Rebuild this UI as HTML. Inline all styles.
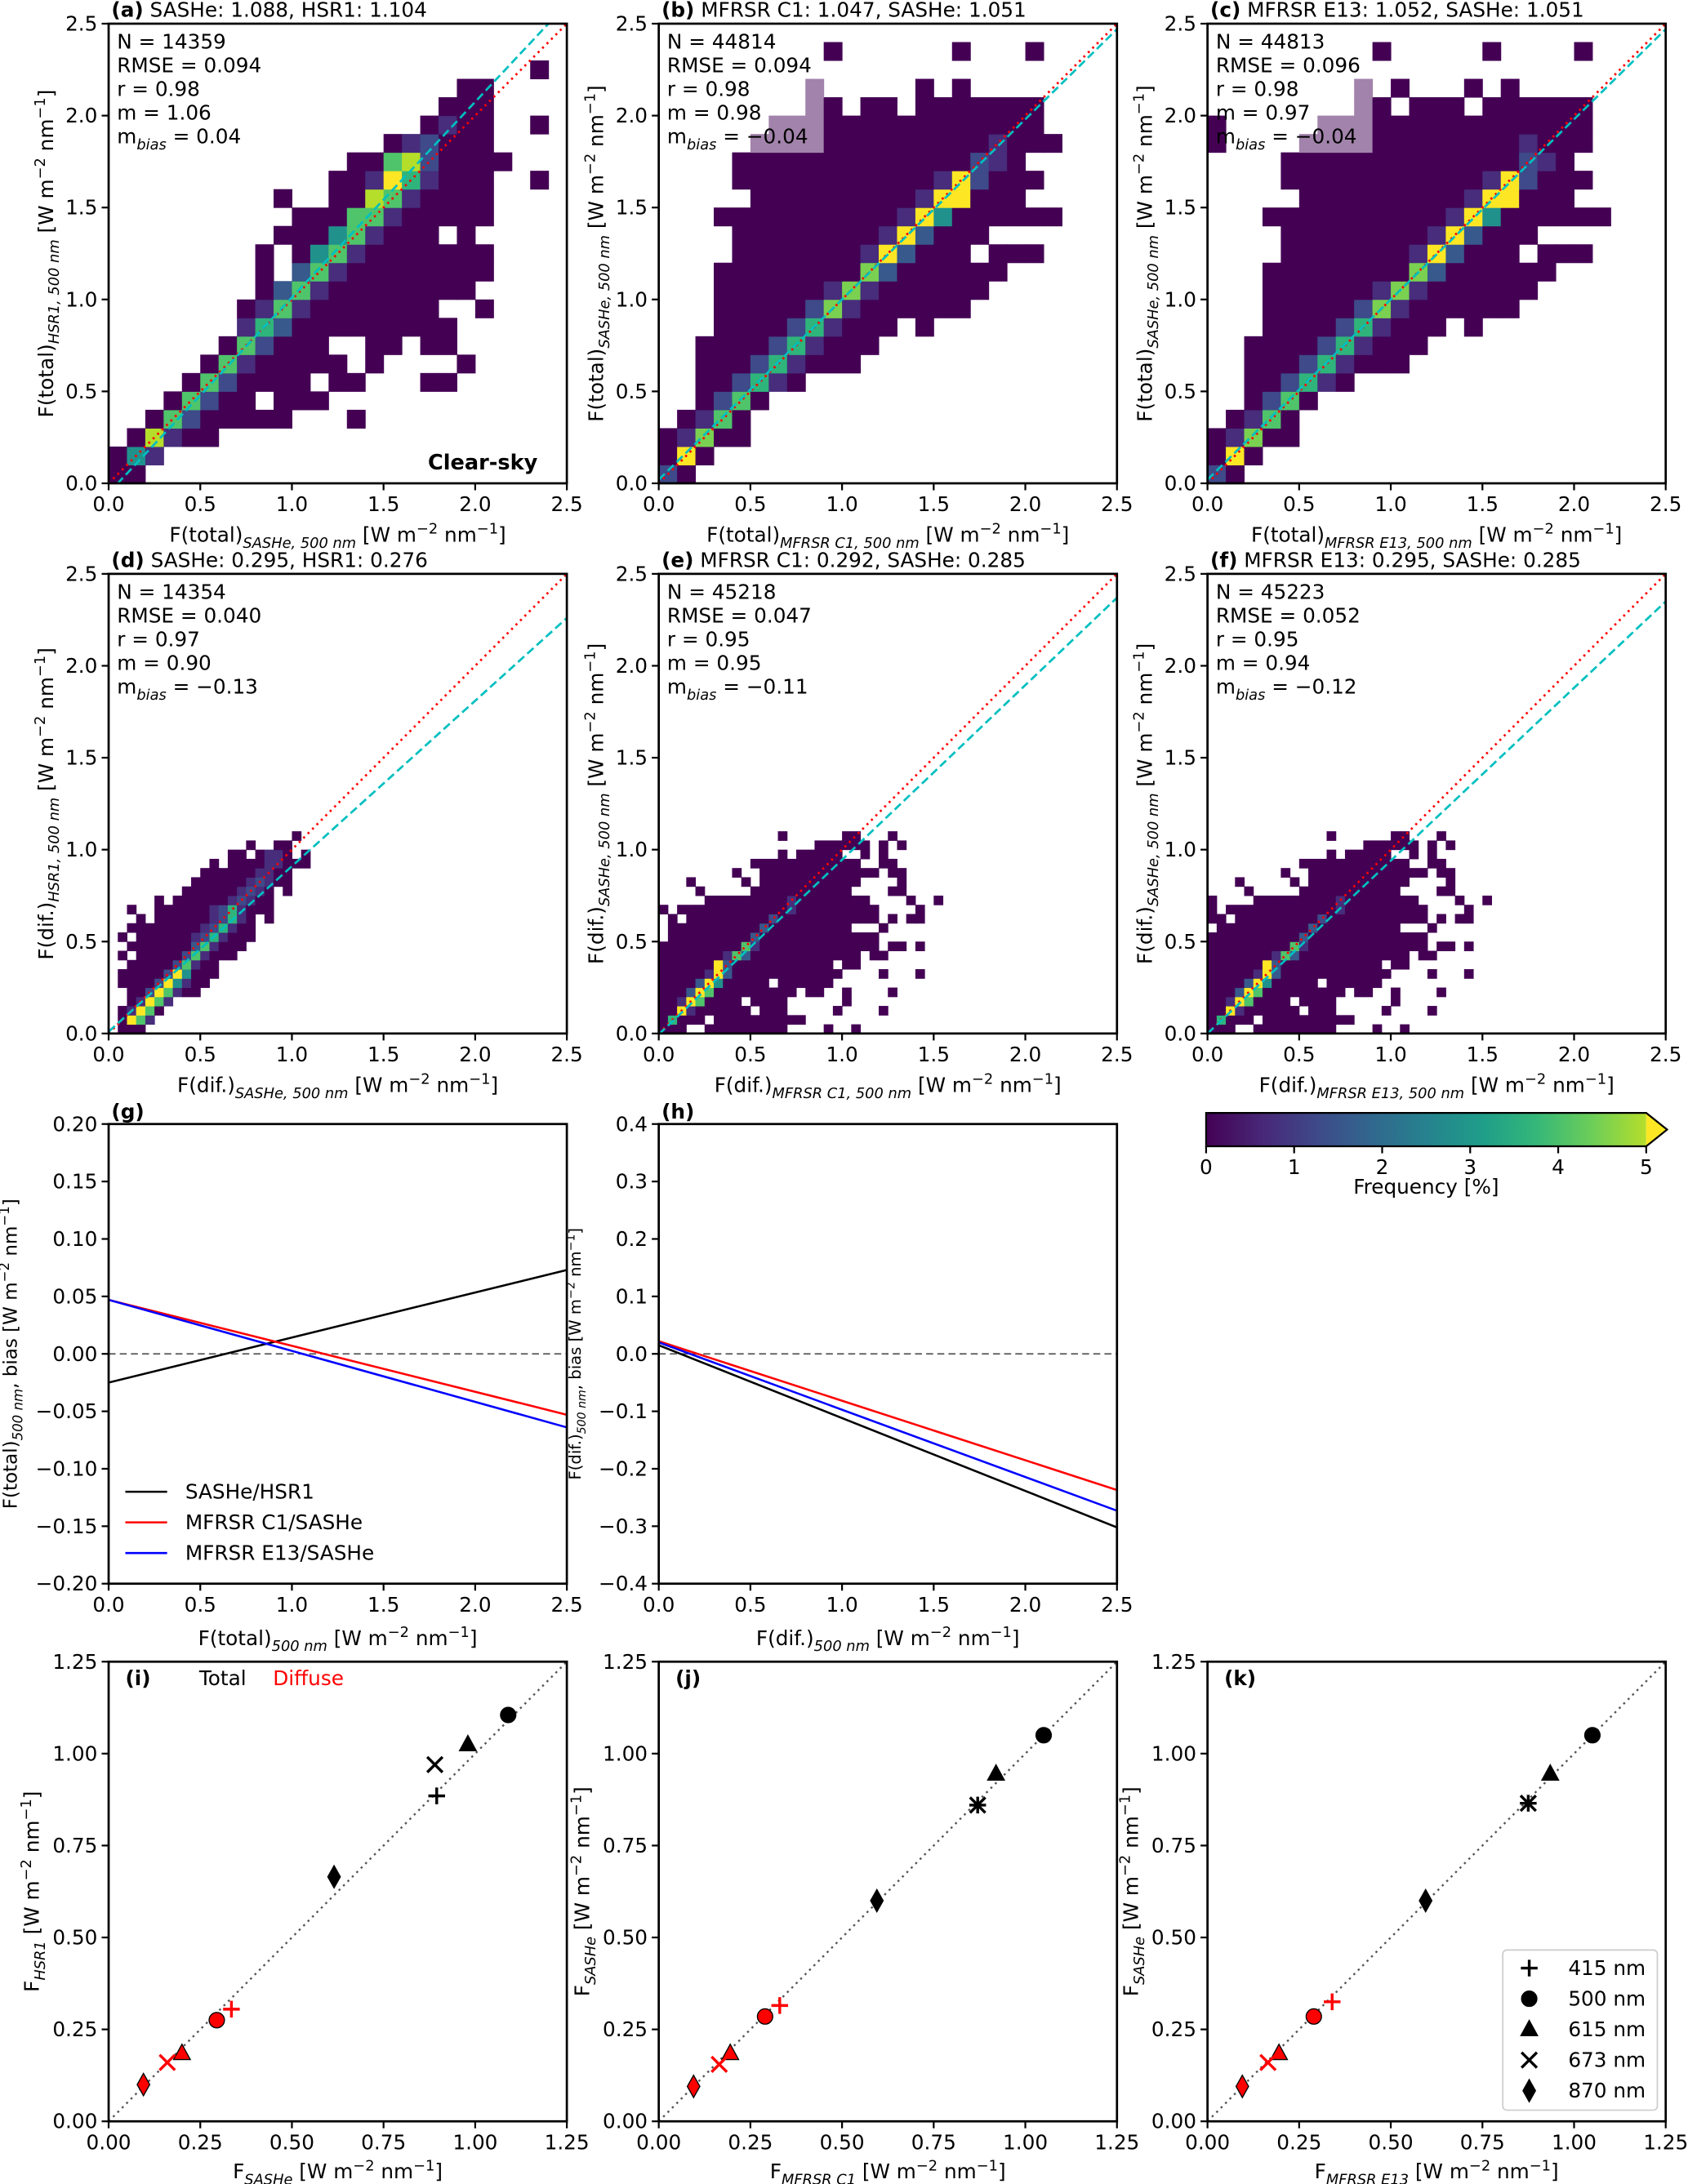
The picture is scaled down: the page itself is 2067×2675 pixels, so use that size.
<!DOCTYPE html>
<html><head><meta charset="utf-8"><style>
html,body{margin:0;padding:0;background:#fff}
svg{display:block}
text{font-family:"DejaVu Sans","Liberation Sans",sans-serif;fill:#000}
</style></head><body>
<svg id="fig" xmlns="http://www.w3.org/2000/svg" width="2067" height="2675" viewBox="0 0 1212 1568" preserveAspectRatio="none">
<defs>
<linearGradient id="vir" x1="0" x2="1" y1="0" y2="0">
<stop offset="0" stop-color="#440154"/><stop offset="0.13" stop-color="#482878"/><stop offset="0.25" stop-color="#3e4989"/><stop offset="0.38" stop-color="#31688e"/><stop offset="0.5" stop-color="#26828e"/><stop offset="0.63" stop-color="#1f9e89"/><stop offset="0.75" stop-color="#35b779"/><stop offset="0.88" stop-color="#6ece58"/><stop offset="1" stop-color="#b5de2b"/>
</linearGradient>
</defs>
</svg>
<script>
// ---------- DATA ----------
const heatA=["00","041",".08100","..06200000...0",
"...06200.000","....0620000.00...00",".....06100000.0....0","......062000..00.00",
".......153000000000",".......01610000000..0","........036100000000","........0.36100000000",
"........0.04610000000",".........000461000.0","..........00066100000",".........0..008610000",
"............001951000..0",".............006820000","...............012000",".................0100..0",
"..................000","...................00",".......................0"];
const heatB=["20","090","01700",".0160","..0260","..002510","..000251000","..0000251000",
"...0000251000.0","...00000271000000","...000000171000000","...0000000073000000",
"....0000000193000.000","....00000000193000","...0000000000194000000",".....000000000199000",
"....00000000000192000","....0000000000000210",".....LLLL0000000001000","......LLL000000000000",
"........L0.00.0000000","........L.....0.0","",".........0......0...0"];
const heatC=["20","090","01700",".0160","..0260","..002510","..000251000","..0000251000",
"...0000251000.0","...00000271000000","...000000171000000","...0000000073000000",
"....0000000193000.000","....00000000193000","...0000000000194000000",".....000000000199000",
"....00000000000192000","....0000000000000210","0....LLLL000000001000","0.....LLL000000000000",
"........L0.000.000000","........L.0...0.0","",".........0.....0....0"];
const heatD=[".000",".0961",".01960","..01961","..00296100",".0000294100",".00000294000","..0000026100",
".0.00000261000","..0000000361000",".0.0000001251000","..00000000125100","...0.00000012510.0",
"..0..0000001251000",".....0.00000012100","........0000001210.0",".........00000012100",
"..........0000001100","...........0.000011000",".............00.0110.0","...............0..00","....................0"];
const heatE=["000..000000000....0..0","05000.0000000000","0091000000.000.....0....0","001960000.0000......0",
"000396000000000.00..0....0","000039400000.000000","00000193000000000000....0...0","0000009300000000000.00",
"0000000163000000000000.00","000000000610000000000000.00.0",".00000000030000000000000",".00000000003000000000...0",
".0.000000000200000000000.0.00","0.0000000000001000000000....0",".....000000000100000000....0..0","....0.....00000000000....00",
"...0.....0.00000000000....0","........0..0000000000000.00","..........000000000000..00",".............0.00000..0.0",
".................000000.0.0",".............0......00...0"];
const heatF=["000..000000000....0..0","05000.0000000000","0091000000.000.....0....0","001960000.0000......0",
"000396000000000.00..0....0","000039400000.000000","00000193000000000000....0...0","0000009300000000000.00",
"0000000163000000000000.00","000000000610000000000000.00.0","000000000030000000000000",".00000000003000000000...0",
"00.000000000200000000000.0.00","0.0000000000001000000000....0","0....000000000100000000....0..0","....0.....00000000000....00",
"...0.....0.00000000000....0","........0..0000000000000.00","..........000000000000..00",".............0.00000..0.0",
".................000000.0.0",".............0......00...0"];
// regression lines [slope, intercept]
const fitA=[1.064,-0.053], fitB=[0.98,0.02], fitC=[0.98,0.02], fitD=[0.90,0.01], fitE=[0.95,-0.005], fitF=[0.94,0.0];
// bias lines: [value at 0, value at 2.5]
const gBlack=[-0.025,0.073], gRed=[0.047,-0.053], gBlue=[0.047,-0.064];
const hBlack=[0.015,-0.302], hRed=[0.022,-0.237], hBlue=[0.020,-0.273];
// scatter (i,j,k): order 415,500,615,673,870
const wavelengths=["415 nm","500 nm","615 nm","673 nm","870 nm"];
const markerTypes=["plus","circle","triangle","x","diamond"];
const iTotX=[0.895,1.09,0.98,0.89,0.615], iTotY=[0.885,1.105,1.025,0.97,0.665];
const iDifX=[0.335,0.295,0.20,0.16,0.095], iDifY=[0.305,0.275,0.185,0.16,0.10];
const jTotX=[0.87,1.05,0.92,0.87,0.595], jTotY=[0.86,1.05,0.945,0.86,0.60];
const jDifX=[0.33,0.29,0.195,0.165,0.095], jDifY=[0.315,0.285,0.185,0.155,0.095];
const kTotX=[0.875,1.05,0.935,0.875,0.595], kTotY=[0.865,1.05,0.945,0.865,0.60];
const kDifX=[0.34,0.29,0.195,0.165,0.095], kDifY=[0.325,0.285,0.185,0.16,0.095];
const ticks25=[0,0.5,1.0,1.5,2.0,2.5];
const ticksG=[-0.20,-0.15,-0.10,-0.05,0,0.05,0.10,0.15,0.20];
const ticksH=[-0.4,-0.3,-0.2,-0.1,0,0.1,0.2,0.3,0.4];
const ticks125=[0,0.25,0.5,0.75,1.0,1.25];
const cbTicks=[0,1,2,3,4,5];

// ---------- HELPERS ----------
const NS="http://www.w3.org/2000/svg";
const svg=document.getElementById('fig');
function mk(tag,attrs,parent){const e=document.createElementNS(NS,tag);for(const k in attrs)e.setAttribute(k,attrs[k]);(parent||svg).appendChild(e);return e;}
const lv={'0':'#440154','1':'#472d7b','2':'#3e4a89','3':'#38598c','4':'#21918c','5':'#2fb47c','6':'#4fc46a','7':'#7ad151','8':'#b5de2b','9':'#fde725','L':'#a283ab'};
function fmtMinus(v,d){const s=Math.abs(v).toFixed(d);return (v<-1e-9?'\u2212':'')+s;}
function rich(parent,x,y,parts,fs,anchor,rot){
  const t=mk('text',{x:x,y:y,'font-size':fs,'text-anchor':anchor||'start'},parent);
  if(rot)t.setAttribute('transform','rotate(-90 '+x+' '+y+')');
  let shift=0;
  parts.forEach(p=>{
    const ts=mk('tspan',{},t);
    let target=0;
    if(p[1]==='sub'){target=fs*0.3;ts.setAttribute('font-size',fs*0.72);ts.setAttribute('font-style','italic');}
    else if(p[1]==='sup'){target=-fs*0.4;ts.setAttribute('font-size',fs*0.72);}
    else if(p[1]==='b'){ts.setAttribute('font-weight','bold');}
    ts.setAttribute('dy',target-shift);shift=target;
    ts.textContent=p[0];
  });
  return t;
}
const unitParts=[[' [W m'],['\u22122','sup'],[' nm'],['\u22121','sup'],[']']];
let clipN=0;
function axes(name,x0,y0,w,h,xr,yr,xt,yt,dx,dy){
  const g=mk('g',{});
  
  
  const sx=v=>x0+(v-xr[0])/(xr[1]-xr[0])*w;
  const sy=v=>y0+h-(v-yr[0])/(yr[1]-yr[0])*h;
  const cid='clip'+(clipN++);
  const cp=mk('clipPath',{id:cid},g);mk('rect',{x:x0,y:y0,width:w,height:h},cp);
  const plot=mk('g',{'clip-path':'url(#'+cid+')'},g);
  
  
  const tg=mk('g',{},g);
  
  
  xt.forEach(v=>{mk('line',{x1:sx(v),x2:sx(v),y1:y0+h,y2:y0+h+5,stroke:'#000','stroke-width':1.3},tg);
    const t=mk('text',{x:sx(v),y:y0+h+20,'font-size':14.5,'text-anchor':'middle'},tg);t.textContent=fmtMinus(v,dx);});
  yt.forEach(v=>{mk('line',{x1:x0-5,x2:x0,y1:sy(v),y2:sy(v),stroke:'#000','stroke-width':1.3},tg);
    const t=mk('text',{x:x0-8,y:sy(v)+5,'font-size':14.5,'text-anchor':'end'},tg);t.textContent=fmtMinus(v,dy);});
  const fr=mk('rect',{x:x0,y:y0,width:w,height:h,fill:'none',stroke:'#000','stroke-width':1.6},g);
  
  
  return {g,plot,sx,sy,x0,y0,w,h};
}
function heat(ax,grid,b,name){
  const hg=mk('g',{},ax.plot);
  
  
  grid.forEach((row,j)=>{for(let i=0;i<row.length;i++){const c=row[i];if(c==='.'||!lv[c])continue;
    const x=ax.sx(i*b),y=ax.sy((j+1)*b);
    const r=mk('rect',{x:x,y:y,width:ax.sx(b)-ax.sx(0)+0.3,height:ax.sy(0)-ax.sy(b)+0.3,fill:lv[c]},hg);
    
    }});
}
function fitLines(ax,fit,name){
  const l1=mk('line',{x1:ax.sx(0),y1:ax.sy(0),x2:ax.sx(2.5),y2:ax.sy(2.5),stroke:'#ff0000','stroke-width':1.6,'stroke-dasharray':'1.5,3'},ax.plot);
  
  
  const l2=mk('line',{x1:ax.sx(0),y1:ax.sy(fit[1]),x2:ax.sx(2.5),y2:ax.sy(fit[1]+fit[0]*2.5),stroke:'#00bfbf','stroke-width':1.6,'stroke-dasharray':'6,3'},ax.plot);
  
  
}
function stats(ax,lines){
  const sg=mk('g',{},ax.g);
  
  
  lines.forEach((l,k)=>{
    if(k===4) rich(sg,ax.x0+6,ax.y0+18+17*k,[['m'],['bias','sub'],[' = '+l]],14.5);
    else {const t=mk('text',{x:ax.x0+6,y:ax.y0+18+17*k,'font-size':14.5},sg);t.textContent=l;}
  });
}
function title(ax,tag,txt){
  const t=rich(ax.g,ax.x0+2,ax.y0-5,[[tag,'b'],[' '+txt]],14.5);
  
  
}
function xlab(ax,parts,dy){const t=rich(ax.g,ax.x0+ax.w/2,ax.y0+ax.h+(dy||42),parts.concat(unitParts),14.5,'middle');
  
  }
function ylab(ax,parts,off,fs){const x=ax.x0-off,y=ax.y0+ax.h/2;const t=rich(ax.g,x,y,parts.concat(unitParts),fs||14.5,'middle',true);
  
  }

// ---------- ROW 1 ----------
const X=[78,473,867],W=329,H=330,Y=[17,412,807,1193];
const a=axes('panel-a',X[0],Y[0],W,H,[0,2.5],[0,2.5],ticks25,ticks25,1,1);
heat(a,heatA,0.1,'heatmap-a');fitLines(a,fitA,'fit-line-a');
stats(a,['N = 14359','RMSE = 0.094','r = 0.98','m = 1.06','0.04']);
title(a,'(a)','SASHe: 1.088, HSR1: 1.104');
xlab(a,[['F(total)'],['SASHe, 500 nm','sub']]);ylab(a,[['F(total)'],['HSR1, 500 nm','sub']],40);
const cs=mk('text',{x:386,y:337,'font-size':15,'font-weight':'bold','text-anchor':'end'},a.g);cs.textContent='Clear-sky';



const b=axes('panel-b',X[1],Y[0],W,H,[0,2.5],[0,2.5],ticks25,ticks25,1,1);
heat(b,heatB,0.1,'heatmap-b');fitLines(b,fitB,'fit-line-b');
stats(b,['N = 44814','RMSE = 0.094','r = 0.98','m = 0.98','\u22120.04']);
title(b,'(b)','MFRSR C1: 1.047, SASHe: 1.051');
xlab(b,[['F(total)'],['MFRSR C1, 500 nm','sub']]);ylab(b,[['F(total)'],['SASHe, 500 nm','sub']],40);

const c=axes('panel-c',X[2],Y[0],W,H,[0,2.5],[0,2.5],ticks25,ticks25,1,1);
heat(c,heatC,0.1,'heatmap-c');fitLines(c,fitC,'fit-line-c');
stats(c,['N = 44813','RMSE = 0.096','r = 0.98','m = 0.97','\u22120.04']);
title(c,'(c)','MFRSR E13: 1.052, SASHe: 1.051');
xlab(c,[['F(total)'],['MFRSR E13, 500 nm','sub']]);ylab(c,[['F(total)'],['SASHe, 500 nm','sub']],40);

// ---------- ROW 2 ----------
const d=axes('panel-d',X[0],Y[1],W,H,[0,2.5],[0,2.5],ticks25,ticks25,1,1);
heat(d,heatD,0.05,'heatmap-d');fitLines(d,fitD,'fit-line-d');
stats(d,['N = 14354','RMSE = 0.040','r = 0.97','m = 0.90','\u22120.13']);
title(d,'(d)','SASHe: 0.295, HSR1: 0.276');
xlab(d,[['F(dif.)'],['SASHe, 500 nm','sub']]);ylab(d,[['F(dif.)'],['HSR1, 500 nm','sub']],40);

const e=axes('panel-e',X[1],Y[1],W,H,[0,2.5],[0,2.5],ticks25,ticks25,1,1);
heat(e,heatE,0.05,'heatmap-e');fitLines(e,fitE,'fit-line-e');
stats(e,['N = 45218','RMSE = 0.047','r = 0.95','m = 0.95','\u22120.11']);
title(e,'(e)','MFRSR C1: 0.292, SASHe: 0.285');
xlab(e,[['F(dif.)'],['MFRSR C1, 500 nm','sub']]);ylab(e,[['F(dif.)'],['SASHe, 500 nm','sub']],40);

const f=axes('panel-f',X[2],Y[1],W,H,[0,2.5],[0,2.5],ticks25,ticks25,1,1);
heat(f,heatF,0.05,'heatmap-f');fitLines(f,fitF,'fit-line-f');
stats(f,['N = 45223','RMSE = 0.052','r = 0.95','m = 0.94','\u22120.12']);
title(f,'(f)','MFRSR E13: 0.295, SASHe: 0.285');
xlab(f,[['F(dif.)'],['MFRSR E13, 500 nm','sub']]);ylab(f,[['F(dif.)'],['SASHe, 500 nm','sub']],40);

// ---------- ROW 3 ----------
function biasLine(ax,vals,color,name){
  const l=mk('line',{x1:ax.sx(0),y1:ax.sy(vals[0]),x2:ax.sx(2.5),y2:ax.sy(vals[1]),stroke:color,'stroke-width':1.5},ax.plot);
  
  
}
const g=axes('panel-g',X[0],Y[2],W,H,[0,2.5],[-0.2,0.2],ticks25,ticksG,1,2);
const zg=mk('line',{x1:g.sx(0),x2:g.sx(2.5),y1:g.sy(0),y2:g.sy(0),stroke:'#555','stroke-width':1,'stroke-dasharray':'5,3'},g.plot);


biasLine(g,gBlack,'#000','line-sashe-hsr1');biasLine(g,gRed,'#ff0000','line-c1-sashe');biasLine(g,gBlue,'#0000ff','line-e13-sashe');
const gt=mk('text',{x:80,y:Y[2]-4,'font-size':14.5,'font-weight':'bold'},g.g);gt.textContent='(g)';


xlab(g,[['F(total)'],['500 nm','sub']],44);ylab(g,[['F(total)'],['500 nm','sub'],[', bias']],66,13.5);
const legG=mk('g',{},g.g);


[['SASHe/HSR1','#000'],['MFRSR C1/SASHe','#ff0000'],['MFRSR E13/SASHe','#0000ff']].forEach((p,k)=>{
  const yy=1071+22*k;
  const ln=mk('line',{x1:90,x2:120,y1:yy,y2:yy,stroke:p[1],'stroke-width':1.5},legG);
  
  
  const t=mk('text',{x:133,y:yy+5,'font-size':14.5},legG);t.textContent=p[0];
});

const h=axes('panel-h',X[1],Y[2],W,H,[0,2.5],[-0.4,0.4],ticks25,ticksH,1,1);
const zh=mk('line',{x1:h.sx(0),x2:h.sx(2.5),y1:h.sy(0),y2:h.sy(0),stroke:'#555','stroke-width':1,'stroke-dasharray':'5,3'},h.plot);


biasLine(h,hBlack,'#000','line-sashe-hsr1');biasLine(h,hRed,'#ff0000','line-c1-sashe');biasLine(h,hBlue,'#0000ff','line-e13-sashe');
const ht=mk('text',{x:475,y:Y[2]-4,'font-size':14.5,'font-weight':'bold'},h.g);ht.textContent='(h)';


xlab(h,[['F(dif.)'],['500 nm','sub']],44);ylab(h,[['F(dif.)'],['500 nm','sub'],[', bias']],56,11.5);

// colorbar
const cb=mk('g',{});


const cbx0=866,cbx1=1182,cby=799,cbh=24;
mk('rect',{x:cbx0,y:cby,width:cbx1-cbx0,height:cbh,fill:'url(#vir)'},cb);
mk('polygon',{points:`${cbx1},${cby} ${cbx1+15},${cby+cbh/2} ${cbx1},${cby+cbh}`,fill:'#fde725'},cb);
mk('polygon',{points:`${cbx0},${cby} ${cbx1},${cby} ${cbx1+15},${cby+cbh/2} ${cbx1},${cby+cbh} ${cbx0},${cby+cbh}`,fill:'none',stroke:'#000','stroke-width':1.3},cb);
cbTicks.forEach(v=>{const x=cbx0+v/5*(cbx1-cbx0);
  mk('line',{x1:x,x2:x,y1:cby+cbh,y2:cby+cbh+5,stroke:'#000','stroke-width':1.3},cb);
  const t=mk('text',{x:x,y:cby+cbh+20,'font-size':14.5,'text-anchor':'middle'},cb);t.textContent=String(v);});
const cbl=mk('text',{x:(cbx0+cbx1)/2,y:857,'font-size':14.5,'text-anchor':'middle'},cb);cbl.textContent='Frequency [%]';

// ---------- ROW 4 ----------
function marker(parent,type,x,y,fill){
  let el;
  if(type==='plus'){el=mk('path',{d:`M${x-6},${y}H${x+6}M${x},${y-6}V${y+6}`,stroke:fill,'stroke-width':2},parent);}
  else if(type==='x'){el=mk('path',{d:`M${x-5.5},${y-5.5}L${x+5.5},${y+5.5}M${x-5.5},${y+5.5}L${x+5.5},${y-5.5}`,stroke:fill,'stroke-width':2},parent);}
  else if(type==='circle'){el=mk('circle',{cx:x,cy:y,r:5.5,fill:fill,stroke:'#000','stroke-width':0.8},parent);}
  else if(type==='triangle'){el=mk('polygon',{points:`${x},${y-6.5} ${x+6},${y+4.5} ${x-6},${y+4.5}`,fill:fill,stroke:'#000','stroke-width':0.8},parent);}
  else {el=mk('polygon',{points:`${x},${y-8} ${x+4.5},${y} ${x},${y+8} ${x-4.5},${y}`,fill:fill,stroke:'#000','stroke-width':0.8},parent);}
  return el;
}
function scatterPanel(name,col,tx,ty,dx,dy,tag,yparts,xparts){
  const ax=axes(name,X[col],Y[3],W,H,[0,1.25],[0,1.25],ticks125,ticks125,2,2);
  const dl=mk('line',{x1:ax.sx(0),y1:ax.sy(0),x2:ax.sx(1.25),y2:ax.sy(1.25),stroke:'#555','stroke-width':1.4,'stroke-dasharray':'1.5,3'},ax.plot);
  
  
  for(let k=0;k<tx.length;k++){
    const m=marker(ax.plot,markerTypes[k],ax.sx(tx[k]),ax.sy(ty[k]),'#000');
    
    
  }
  for(let k=0;k<dx.length;k++){
    const m=marker(ax.plot,markerTypes[k],ax.sx(dx[k]),ax.sy(dy[k]),'#ff0000');
    
    
  }
  const t=mk('text',{x:ax.x0+12,y:ax.y0+17,'font-size':14.5,'font-weight':'bold'},ax.g);t.textContent=tag;
  
  
  ylab(ax,yparts,50);
  const xl=rich(ax.g,ax.x0+ax.w/2,1564,xparts.concat(unitParts),14.5,'middle');
  
  
  return ax;
}
const pi=scatterPanel('panel-i',0,iTotX,iTotY,iDifX,iDifY,'(i)',[['F'],['HSR1','sub']],[['F'],['SASHe','sub']]);
const tt=mk('text',{x:143,y:1210,'font-size':14.5},pi.g);tt.textContent='Total';


const td=mk('text',{x:196,y:1210,'font-size':14.5,fill:'#ff0000'},pi.g);td.textContent='Diffuse';td.style.fill='#ff0000';


scatterPanel('panel-j',1,jTotX,jTotY,jDifX,jDifY,'(j)',[['F'],['SASHe','sub']],[['F'],['MFRSR C1','sub']]);
const pk=scatterPanel('panel-k',2,kTotX,kTotY,kDifX,kDifY,'(k)',[['F'],['SASHe','sub']],[['F'],['MFRSR E13','sub']]);
const lg=mk('g',{},pk.g);


mk('rect',{x:1079,y:1400,width:111,height:115,rx:3,fill:'#fff',stroke:'#ccc','stroke-width':1},lg);
wavelengths.forEach((w,k)=>{const yy=1413+22*k;
  const m=marker(lg,markerTypes[k],1098,yy,'#000');
  
  
  const t=mk('text',{x:1126,y:yy+5,'font-size':14.5},lg);t.textContent=w;});
</script>
</body></html>
